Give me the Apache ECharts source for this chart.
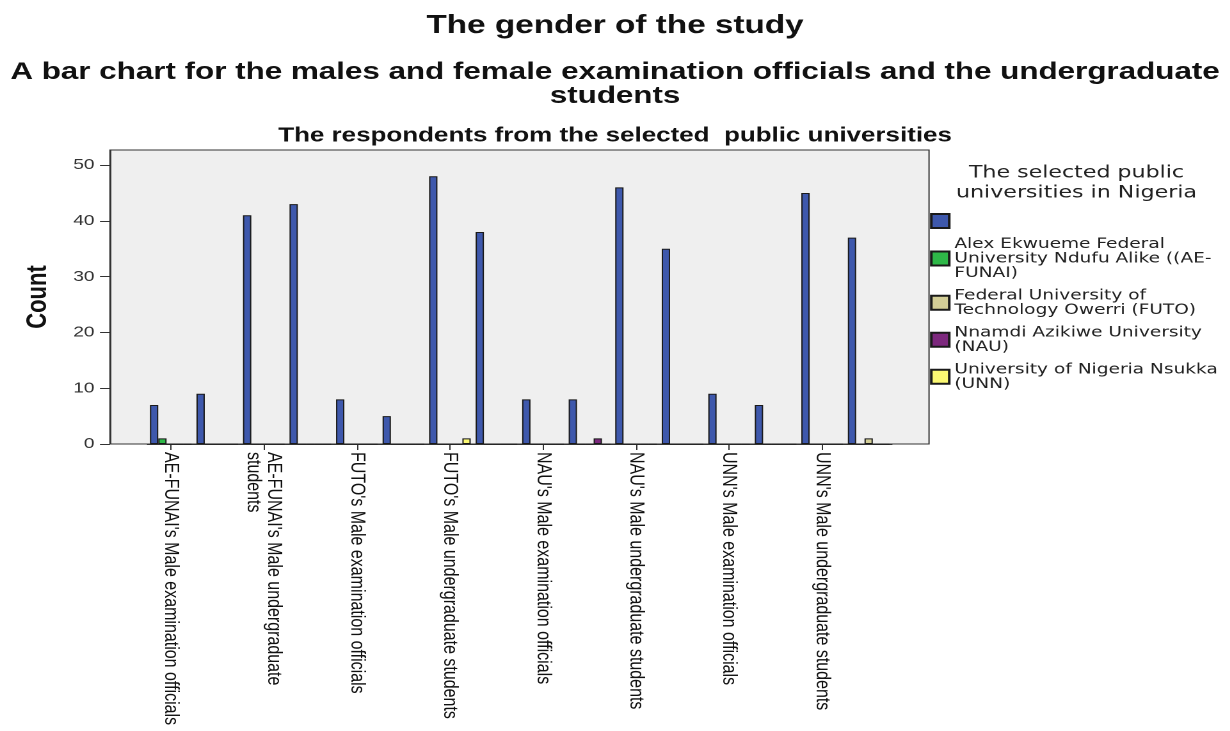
<!DOCTYPE html>
<html>
<head>
<meta charset="utf-8">
<script src="https://cdn.jsdelivr.net/npm/echarts@6/dist/echarts.min.js"></script>
<style>
html,body{margin:0;padding:0;background:#fff;overflow:hidden;}
#stage{width:961px;height:731px;transform:scaleX(1.28);transform-origin:0 0;}
#chart{width:961px;height:731px;}
</style>
</head>
<body>
<div id="stage"><div id="chart"></div></div>
<script>
// ---- data ----
const categories = [
  "AE-FUNAI's Male examination officials",
  "AE-FUNAI's Female examination officials",
  "AE-FUNAI's Male undergraduate students",
  "AE-FUNAI's Female undergraduate students",
  "FUTO's Male examination officials",
  "FUTO's Female examination officials",
  "FUTO's Male undergraduate students",
  "FUTO's Female undergraduate students",
  "NAU's Male examination officials",
  "NAU's Female examination officials",
  "NAU's Male undergraduate students",
  "NAU's Female undergraduate students",
  "UNN's Male examination officials",
  "UNN's Female examination officials",
  "UNN's Male undergraduate students",
  "UNN's Female undergraduate students"
];
const seriesNames = [
  " ",
  "Alex Ekwueme Federal University Ndufu Alike ((AE-FUNAI)",
  "Federal University of Technology Owerri (FUTO)",
  "Nnamdi Azikiwe University (NAU)",
  "University of Nigeria Nsukka (UNN)"
];
const blankValues   = [7, 9, 41, 43, 8, 5, 48, 38, 8, 8, 46, 35, 9, 7, 45, 37];
const aefunaiValues = [1, 0, 0, 0, 0, 0, 0, 0, 0, 0, 0, 0, 0, 0, 0, 0];
const futoValues    = [0, 0, 0, 0, 0, 0, 0, 0, 0, 0, 0, 0, 0, 0, 0, 1];
const nauValues     = [0, 0, 0, 0, 0, 0, 0, 0, 0, 1, 0, 0, 0, 0, 0, 0];
const unnValues     = [0, 0, 0, 0, 0, 0, 1, 0, 0, 0, 0, 0, 0, 0, 0, 0];
const yTickValues   = [0, 10, 20, 30, 40, 50];
const legendTitle = "The selected public\nuniversities in Nigeria";

// ---- presentation ----
const legendWrapped = {
  " ": " ",
  "Alex Ekwueme Federal University Ndufu Alike ((AE-FUNAI)": "Alex Ekwueme Federal\nUniversity Ndufu Alike ((AE-\nFUNAI)",
  "Federal University of Technology Owerri (FUTO)": "Federal University of\nTechnology Owerri (FUTO)",
  "Nnamdi Azikiwe University (NAU)": "Nnamdi Azikiwe University\n(NAU)",
  "University of Nigeria Nsukka (UNN)": "University of Nigeria Nsukka\n(UNN)"
};
const labelWrapped = {
  "AE-FUNAI's Male undergraduate students": "AE-FUNAI's Male undergraduate\nstudents"
};
const colors = ['#3e58ac', '#2eb848', '#d3ce97', '#7c287d', '#fbf873'];
const values = [blankValues, aefunaiValues, futoValues, nauValues, unnValues];

const chart = echarts.init(document.getElementById('chart'), null, {renderer: 'canvas', devicePixelRatio: 2});
const option = {
  backgroundColor: '#ffffff',
  animation: false,
  textStyle: {fontFamily: 'Liberation Sans, Arial, sans-serif'},
  title: [
    {text: 'The gender of the study', left: 'center', top: 8,
     textStyle: {fontSize: 26, fontWeight: 'bold', color: '#111'}},
    {text: 'A bar chart for the males and female examination officials and the undergraduate\nstudents',
     left: 'center', top: 55,
     textStyle: {fontSize: 24.5, fontWeight: 'bold', lineHeight: 24, color: '#111'}},
    {text: 'The respondents from the selected  public universities', left: 'center', top: 121,
     textStyle: {fontSize: 20.3, fontWeight: 'bold', color: '#111'}}
  ],
  graphic: [
    {type: 'rect', z: -10, silent: true,
     shape: {x: 85.9, y: 150, width: 639.9, height: 294},
     style: {fill: '#efefef', stroke: '#333', lineWidth: 1}},
    {type: 'text', x: 841, y: 183, silent: true,
     style: {text: legendTitle, fontFamily: 'DejaVu Sans', fontSize: 17.3, lineHeight: 20,
             align: 'center', verticalAlign: 'middle', fill: '#222'}}
  ],
  legend: {
    orient: 'vertical', left: 726.6, top: 213, padding: 0,
    itemWidth: 14, itemHeight: 14, itemGap: 7.5, icon: 'rect',
    selectedMode: false,
    data: seriesNames,
    formatter: n => legendWrapped[n],
    textStyle: {fontFamily: 'DejaVu Sans', fontSize: 14.5, lineHeight: 14.5, color: '#222', padding: [0, 0, 0, -1]}
  },
  grid: {left: 115.2, right: 264.2, top: 150, bottom: 287},
  xAxis: {
    type: 'category', data: categories,
    axisLine: {show: true, lineStyle: {color: '#333', width: 1}},
    axisTick: {show: true, interval: 1, alignWithLabel: true, length: 6, lineStyle: {color: '#333'}},
    axisLabel: {interval: 1, rotate: -90, margin: 8, fontSize: 16, color: '#111',
                formatter: v => labelWrapped[v] || v},
    splitLine: {show: false}
  },
  yAxis: {
    type: 'value', min: 0, max: 52.7, interval: 10, offset: 29.3,
    name: 'Count', nameLocation: 'middle', nameRotate: 90, nameGap: 45,
    nameTextStyle: {fontSize: 22, fontWeight: 'bold', color: '#111'},
    axisLine: {show: true, lineStyle: {color: '#333', width: 1}},
    axisTick: {show: true, length: 7.8, customValues: yTickValues, lineStyle: {color: '#333'}},
    axisLabel: {customValues: yTickValues, fontSize: 15, color: '#333', margin: 12},
    splitLine: {show: false}
  },
  series: seriesNames.map((name, i) => ({
    type: 'bar', name: name, data: values[i],
    barWidth: 6.5, barGap: '0%',
    itemStyle: {color: colors[i], borderColor: '#1a1a1a', borderWidth: 1}
  }))
};
chart.setOption(option);
</script>
</body>
</html>
